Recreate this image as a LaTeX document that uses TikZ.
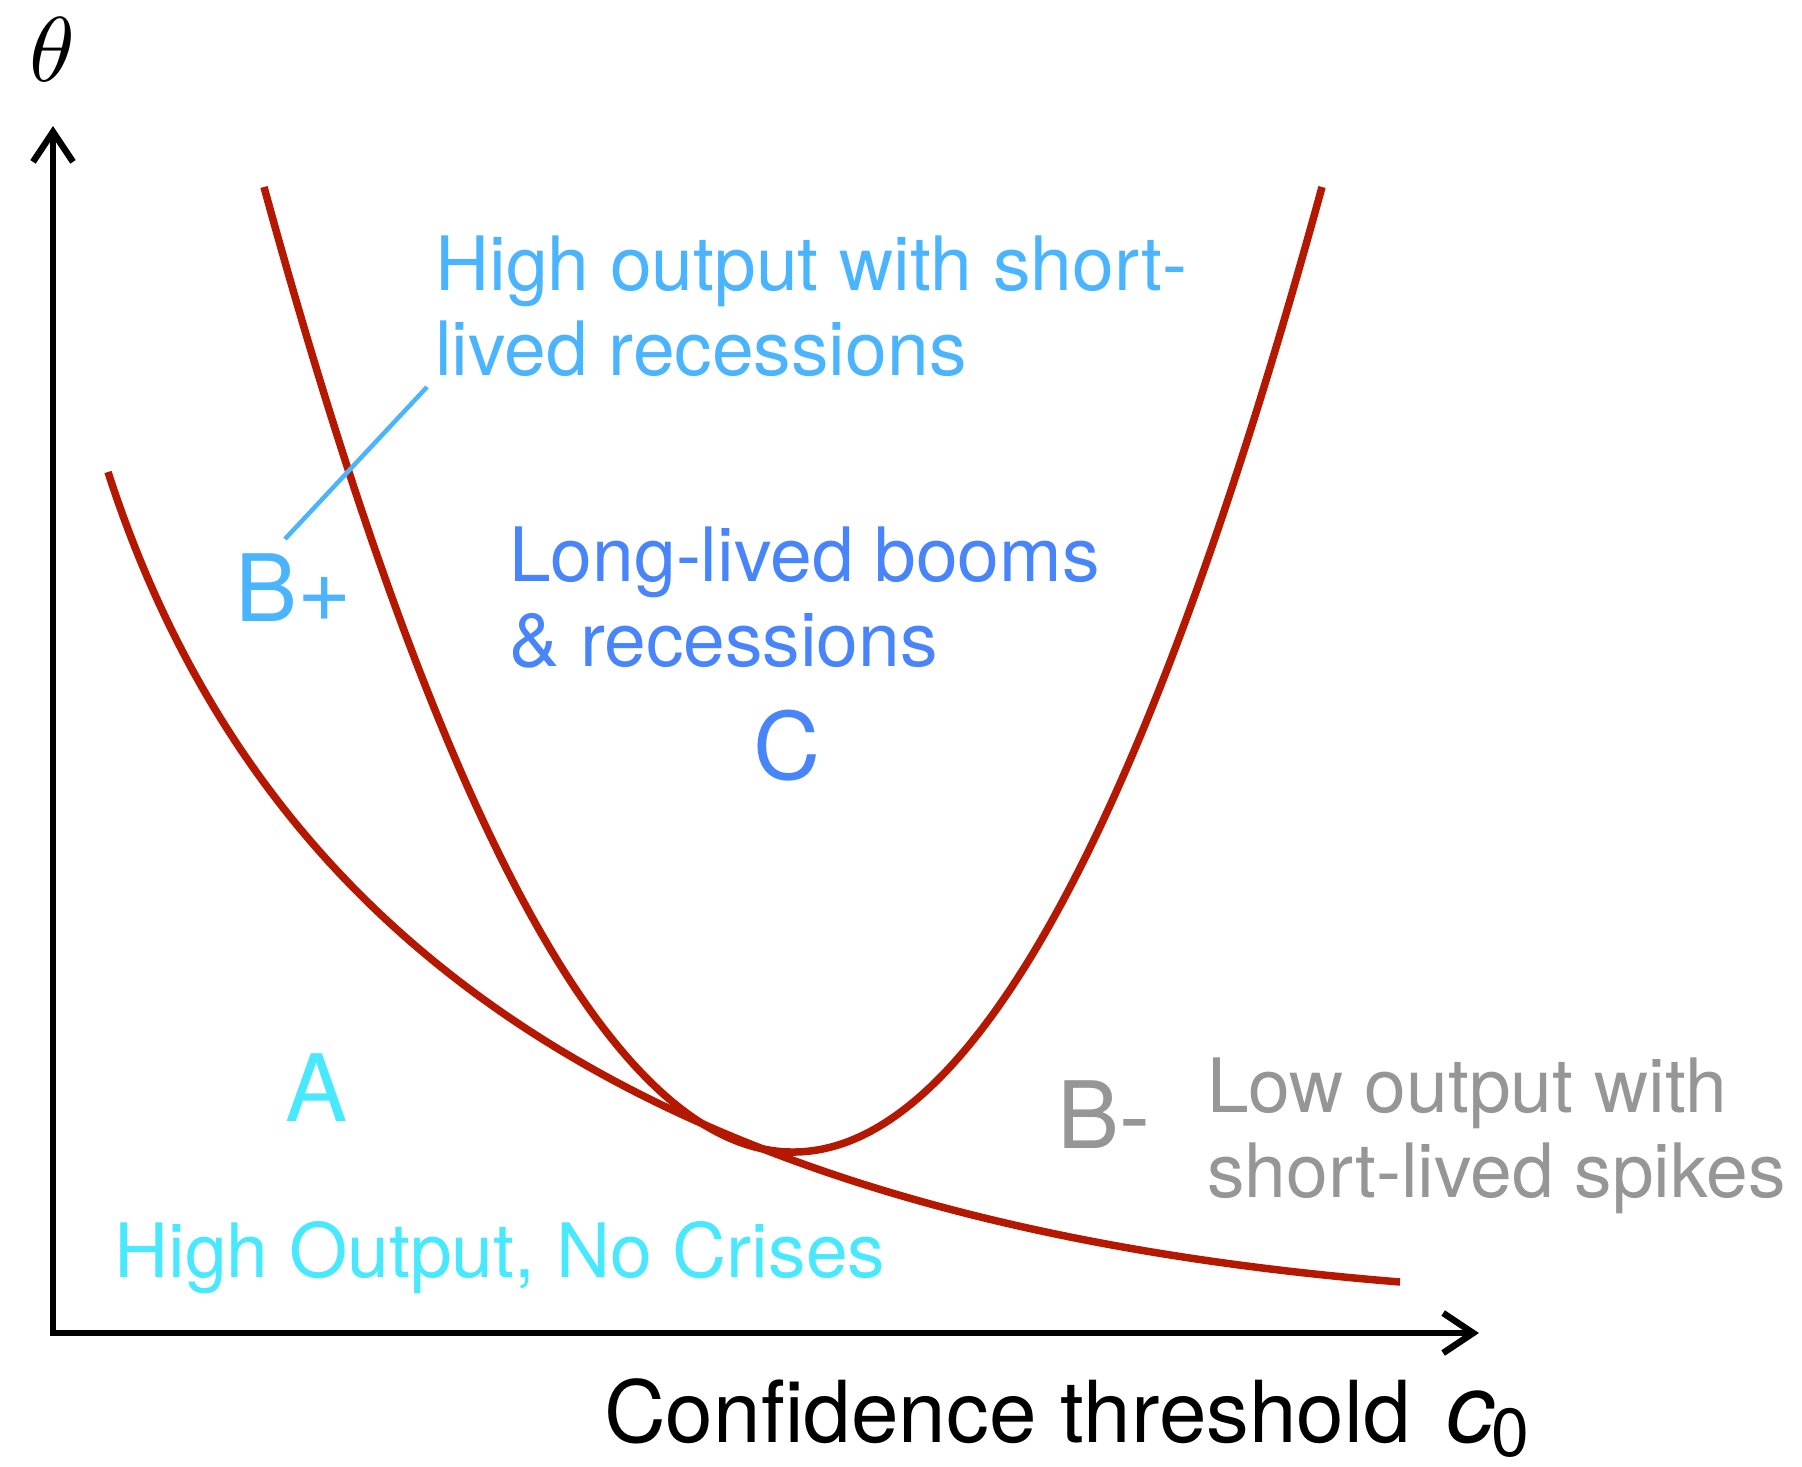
\documentclass[tikz,border=0pt]{standalone}
\usepackage{fontspec}
\setmainfont{TeX Gyre Heros}
\usepackage{graphicx}
\usetikzlibrary{arrows.meta}
\definecolor{curvered}{RGB}{180,24,0}
\definecolor{lightblue}{RGB}{74,180,255}
\definecolor{midblue}{RGB}{72,132,250}
\definecolor{cyanish}{RGB}{72,232,255}
\definecolor{greytext}{RGB}{150,150,150}
\begin{document}
\begin{tikzpicture}[x=1pt,y=-1pt,
  curve/.style={line width=7.5pt, draw=curvered, line join=round},
  axis/.style={line width=6.5pt, draw=black},
  txt/.style={inner sep=0pt, anchor=base west},
  bigl/.style={inner sep=0pt, font=\fontsize{93}{93}\selectfont},
  midt/.style={inner sep=0pt, anchor=base west, font=\fontsize{75}{85}\selectfont},
  leader/.style={line width=4.5pt, draw=lightblue}]
\useasboundingbox (0,0) rectangle (1802,1467);
% axes
\coordinate (O) at (53,1333);
\coordinate (ytop) at (53,126);
\coordinate (xend) at (1479,1333);
\draw[axis, line join=miter, {Straight Barb[length=30pt,width=40pt]}-{Straight Barb[length=30pt,width=40pt]}] (ytop) -- (O) -- (xend);
\node[inner sep=0pt] (theta) at (52,50) {\scalebox{9.2}{$\theta$}};
\node[txt, font=\fontsize{85.5}{85.5}\selectfont] (xlab) at (604,1442) {Confidence threshold};
\node[txt, font=\fontsize{96}{96}\selectfont\itshape] (cvar) at (1446,1442) {c};
\node[txt, font=\fontsize{68}{68}\selectfont] (csub) at (1491,1456) {0};
% curves
\coordinate (c1s) at (108,472);
\coordinate (c1e) at (1400,1282);
\coordinate (c2s) at (264,187);
\coordinate (c2e) at (1322,187);
\draw[curve] (c1s) .. controls (267,965) and (681,1224) .. (c1e);
\draw[curve] (c2s) .. controls (616.7,1473.7) and (969.3,1473.7) .. (c2e);
% labels
\node[midt, text=lightblue] (hi1) at (435,290) {High output with short-};
\node[midt, text=lightblue] (hi2) at (435,375) {lived recessions};
\coordinate (lead1) at (427,387);
\coordinate (lead2) at (285,539);
\draw[leader] (lead1) -- (lead2);
\node[bigl, anchor=base west, text=lightblue] (bplus) at (235,621) {B+};
\node[midt, text=midblue] (ll1) at (509,581) {Long-lived booms};
\node[midt, text=midblue] (ll2) at (509,666) {\& recessions};
\node[bigl, anchor=base, text=midblue] (cc) at (787,779) {C};
\node[bigl, anchor=base, text=cyanish] (aa) at (317,1121) {A};
\node[midt, text=cyanish] (hono) at (114,1277) {High Output, No Crises};
\node[bigl, anchor=base west, text=greytext] (bminus) at (1057,1148) {B-};
\node[midt, text=greytext] (lo1) at (1207,1112) {Low output with};
\node[midt, text=greytext] (lo2) at (1207,1197) {short-lived spikes};
\end{tikzpicture}
\end{document}
